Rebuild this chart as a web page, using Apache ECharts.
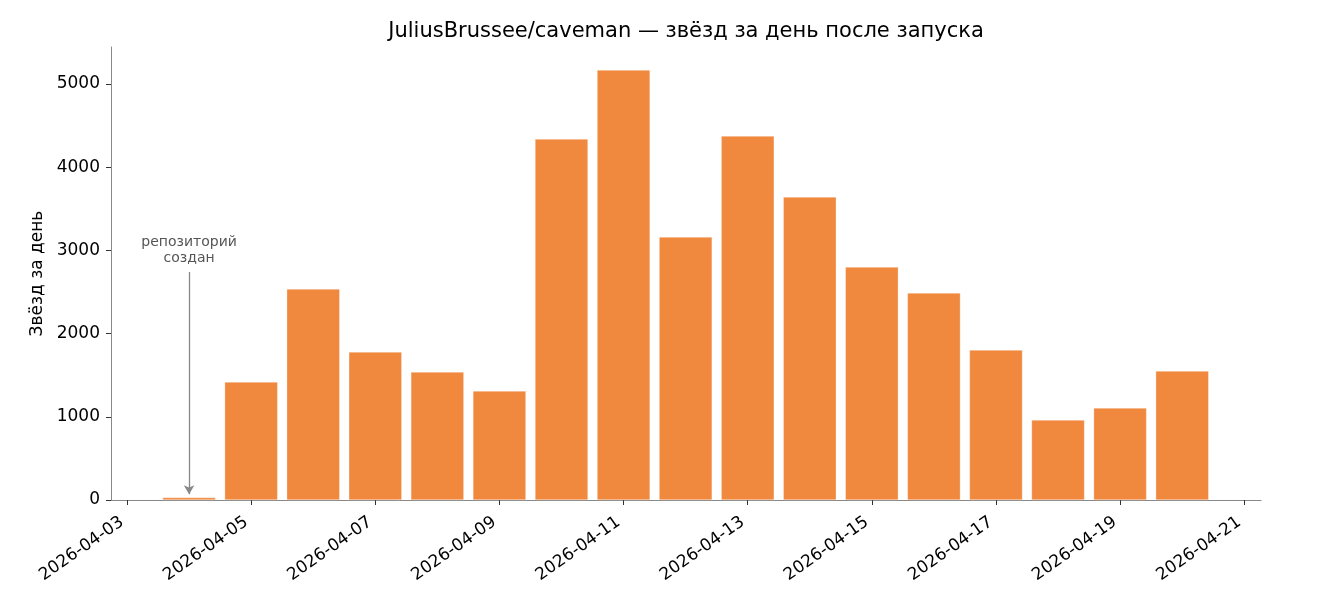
<!DOCTYPE html>
<html>
<head>
<meta charset="utf-8">
<script src="https://cdn.jsdelivr.net/npm/echarts@6/dist/echarts.min.js"></script>
<style>
  html, body { margin: 0; padding: 0; background: #fff; }
  #chart { width: 1320px; height: 610px; }
</style>
</head>
<body>
<div id="chart"></div>
<script>
// days after launch
const dates = [
  '2026-04-04', '2026-04-05', '2026-04-06', '2026-04-07', '2026-04-08', '2026-04-09',
  '2026-04-10', '2026-04-11', '2026-04-12', '2026-04-13', '2026-04-14', '2026-04-15',
  '2026-04-16', '2026-04-17', '2026-04-18', '2026-04-19', '2026-04-20'
]
const stars = [
  30, 1418, 2536, 1779, 1538, 1310,
  4339, 5168, 3161, 4375, 3642, 2800,
  2488, 1803, 962, 1106, 1550
]
const xTickLabels = [
  '2026-04-03', '2026-04-05', '2026-04-07', '2026-04-09', '2026-04-11',
  '2026-04-13', '2026-04-15', '2026-04-17', '2026-04-19', '2026-04-21'
]
const yTicks = [0, 1000, 2000, 3000, 4000, 5000]
const createdDate = '2026-04-04'
const title = 'JuliusBrussee/caveman — звёзд за день после запуска'

const DAY = 86400000
const origin = Date.parse(xTickLabels[0])
const toOffset = d => (Date.parse(d) - origin) / DAY
const toDate = v => new Date(origin + Math.round(v) * DAY).toISOString().slice(0, 10)

const font = 'DejaVu Sans'
const chart = echarts.init(document.getElementById('chart'))

const option = {
  animation: false,
  textStyle: { fontFamily: font },
  graphic: [{
    type: 'text',
    x: 686,
    y: 21,
    style: {
      text: title,
      fontFamily: font,
      fontSize: 21,
      fill: '#000',
      textAlign: 'center'
    }
  }],
  grid: {
    left: 111,
    right: 59,
    top: 47,
    bottom: 110
  },
  xAxis: {
    type: 'value',
    min: -0.258,
    max: 18.27,
    splitLine: { show: false },
    axisLine: { show: true, lineStyle: { color: '#888', width: 1 } },
    axisTick: {
      show: true,
      length: 5,
      customValues: xTickLabels.map(toOffset),
      lineStyle: { color: '#333' }
    },
    axisLabel: {
      customValues: xTickLabels.map(toOffset),
      formatter: v => toDate(v),
      rotate: 35,
      margin: 17,
      padding: [0, 6, 0, 0],
      color: '#000',
      fontSize: 17,
      fontFamily: font
    }
  },
  yAxis: {
    type: 'value',
    min: 0,
    max: 5445,
    name: 'Звёзд за день',
    nameLocation: 'middle',
    nameGap: 58,
    nameTextStyle: { color: '#000', fontSize: 17, fontFamily: font },
    splitLine: { show: false },
    axisLine: { show: true, onZero: false, lineStyle: { color: '#888', width: 1 } },
    axisTick: {
      show: true,
      length: 5,
      customValues: yTicks,
      lineStyle: { color: '#333' }
    },
    axisLabel: {
      customValues: yTicks,
      formatter: v => String(v),
      margin: 11,
      padding: [4, 0, 0, 0],
      color: '#000',
      fontSize: 17,
      fontFamily: font
    }
  },
  series: [{
    type: 'bar',
    barWidth: 53,
    data: dates.map((d, i) => [toOffset(d), stars[i]]),
    itemStyle: {
      color: '#f0883e',
      borderColor: 'rgba(255,255,255,0.6)',
      borderWidth: 0.5
    },
    markLine: {
      silent: true,
      symbol: ['none', 'arrow'],
      symbolSize: [8, 9],
      label: { show: false },
      lineStyle: { color: '#888', width: 1.3, type: 'solid' },
      data: [[
        { coord: [toOffset(createdDate), 2740] },
        { coord: [toOffset(createdDate), 70] }
      ]]
    },
    markPoint: {
      silent: true,
      symbol: 'circle',
      symbolSize: 0,
      itemStyle: { color: 'rgba(0,0,0,0)' },
      label: {
        show: true,
        position: 'top',
        distance: 6,
        formatter: 'репозиторий\nсоздан',
        color: '#555',
        fontSize: 14,
        lineHeight: 16,
        fontFamily: font,
        align: 'center'
      },
      data: [{ coord: [toOffset(createdDate), 2740] }]
    }
  }]
}

chart.setOption(option)
</script>
</body>
</html>
